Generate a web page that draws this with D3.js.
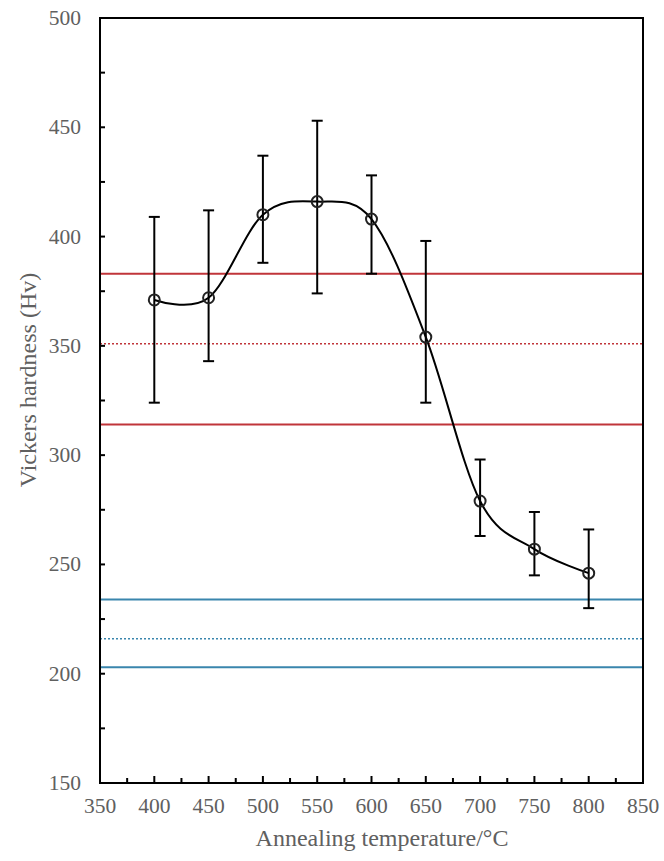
<!DOCTYPE html>
<html><head><meta charset="utf-8">
<script src="https://cdn.jsdelivr.net/npm/d3@7"></script>
<style>body{margin:0;background:#fff}svg{display:block}</style>
</head><body><svg id="c" width="664" height="861"></svg>
<script>
const temps = [400, 450, 500, 550, 600, 650, 700, 750, 800];
const hardness = [371, 372, 410, 416, 408, 354, 279, 257, 246];
const errTop = [409, 412, 437, 453, 428, 398, 298, 274, 266];
const errBottom = [324, 343, 388, 374, 383, 324, 263, 245, 230];
const refRed = [383, 351, 314];
const refBlue = [234, 216, 203];
const refStyle = ["solid", "dotted", "solid"];
const xTicks = [350, 400, 450, 500, 550, 600, 650, 700, 750, 800, 850];
const yTicks = [150, 200, 250, 300, 350, 400, 450, 500];

const svg = d3.select("#c");
const L = 100, R = 643, T = 18, B = 783;
const x = d3.scaleLinear().domain([350, 850]).range([L, R]);
const y = d3.scaleLinear().domain([150, 500]).range([B, T]);
const grey = "#606060";
const font = "'Liberation Serif','Times New Roman',serif";

// reference lines
function refLines(vals, color) {
  vals.forEach((v, i) => {
    svg.append("line").attr("x1", L).attr("x2", R).attr("y1", y(v)).attr("y2", y(v))
      .attr("stroke", color).attr("stroke-width", refStyle[i] === "dotted" ? 1.5 : 2)
      .attr("stroke-dasharray", refStyle[i] === "dotted" ? "2,2" : null);
  });
}
refLines(refRed, "#c0353a");
refLines(refBlue, "#3a86ad");

// axes box
const ax = svg.append("g").attr("stroke", "#000").attr("stroke-width", 2);
ax.append("rect").attr("x", L).attr("y", T).attr("width", R - L).attr("height", B - T).attr("fill", "none");
d3.range(350, 851, 25).forEach(v => {
  if (v === 350 || v === 850) return;
  const major = v % 50 === 0;
  ax.append("line").attr("x1", x(v)).attr("x2", x(v)).attr("y1", B).attr("y2", B - (major ? 7 : 5));
});
d3.range(150, 501, 25).forEach(v => {
  if (v === 150 || v === 500) return;
  ax.append("line").attr("y1", y(v)).attr("y2", y(v)).attr("x1", L).attr("x2", L + 5);
});

// tick labels
svg.append("g").selectAll("text").data(xTicks).join("text")
  .attr("x", d => x(d)).attr("y", 813).attr("text-anchor", "middle")
  .attr("font-family", font).attr("font-size", 21.5).attr("fill", grey).text(d => d);
svg.append("g").selectAll("text").data(yTicks).join("text")
  .attr("x", 81).attr("y", d => y(d) + 7).attr("text-anchor", "end")
  .attr("font-family", font).attr("font-size", 21.5).attr("fill", grey).text(d => d);

// axis titles
svg.append("text").attr("x", 382).attr("y", 846).attr("text-anchor", "middle")
  .attr("font-family", font).attr("font-size", 24).attr("fill", grey).text("Annealing temperature/°C");
svg.append("text").attr("transform", "translate(36,380) rotate(-90)").attr("text-anchor", "middle")
  .attr("font-family", font).attr("font-size", 24).attr("fill", grey).text("Vickers hardness (Hv)");

// error bars
const data = temps.map((t, i) => ({t, h: hardness[i], hi: errTop[i], lo: errBottom[i]}));
const eb = svg.append("g").attr("stroke", "#000").attr("stroke-width", 2);
data.forEach(d => {
  eb.append("line").attr("x1", x(d.t)).attr("x2", x(d.t)).attr("y1", y(d.hi)).attr("y2", y(d.lo));
  eb.append("line").attr("x1", x(d.t) - 5.5).attr("x2", x(d.t) + 5.5).attr("y1", y(d.hi)).attr("y2", y(d.hi));
  eb.append("line").attr("x1", x(d.t) - 5.5).attr("x2", x(d.t) + 5.5).attr("y1", y(d.lo)).attr("y2", y(d.lo));
});

// smooth curve
const line = d3.line().x(d => x(d.t)).y(d => y(d.h)).curve(d3.curveCardinal.tension(0));
svg.append("path").datum(data).attr("d", line).attr("fill", "none").attr("stroke", "#000").attr("stroke-width", 2);

// markers
svg.append("g").selectAll("circle").data(data).join("circle")
  .attr("cx", d => x(d.t)).attr("cy", d => y(d.h)).attr("r", 5.5)
  .attr("fill", "none").attr("stroke", "#222").attr("stroke-width", 2);
</script></body></html>
